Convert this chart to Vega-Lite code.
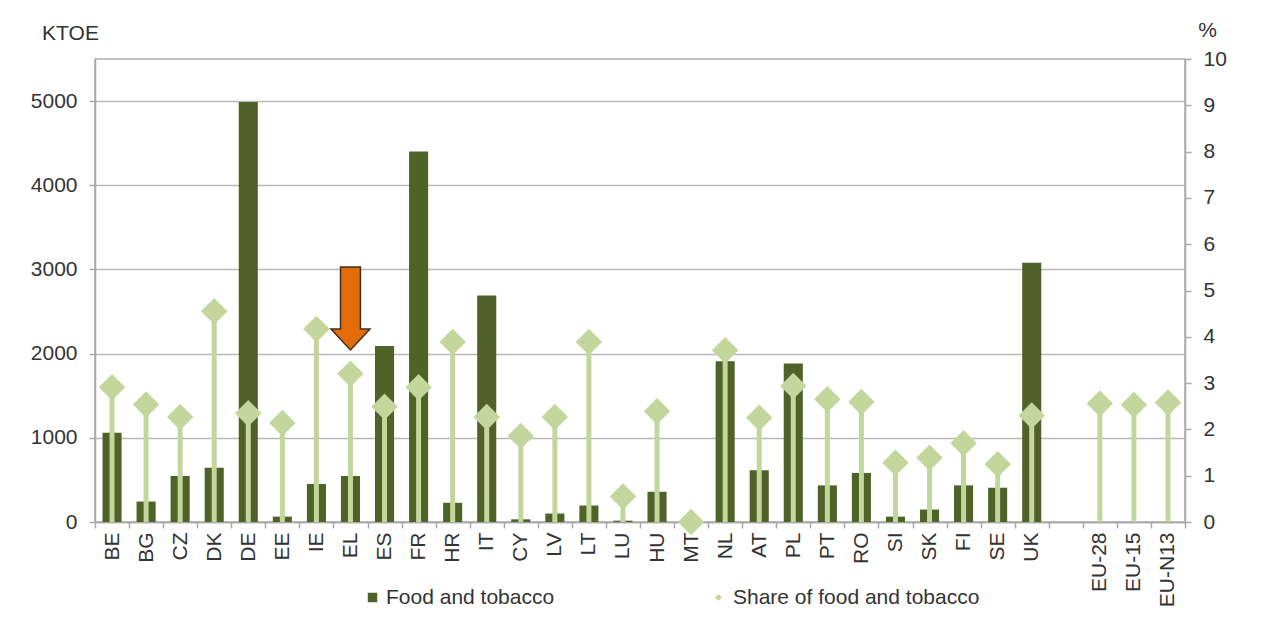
{
  "$schema": "https://vega.github.io/schema/vega-lite/v6.json",
  "width": 1090,
  "height": 463,
  "padding": {"left": 30, "top": 19, "right": 5, "bottom": 5},
  "background": "white",
  "config": {
    "font": "Liberation Sans",
    "view": {"stroke": "#b0b0b0", "strokeWidth": 1.5},
    "axis": {
      "labelFont": "Liberation Sans",
      "titleFont": "Liberation Sans",
      "labelFontSize": 21,
      "titleFontSize": 21,
      "labelColor": "#333333",
      "titleColor": "#333333",
      "titleFontWeight": "normal",
      "domainColor": "#a8a8a8",
      "domainWidth": 1.5,
      "tickColor": "#a8a8a8",
      "tickWidth": 1.5,
      "gridColor": "#b8b8b8",
      "gridWidth": 1.5
    },
    "legend": {
      "labelFont": "Liberation Sans",
      "labelFontSize": 21,
      "labelColor": "#333333",
      "labelLimit": 0,
      "orient": "none",
      "title": null
    }
  },
  "datasets": {
    "main": [
      {"country": "BE", "ktoe": 1060, "share": 2.91},
      {"country": "BG", "ktoe": 243, "share": 2.54},
      {"country": "CZ", "ktoe": 547, "share": 2.27},
      {"country": "DK", "ktoe": 643, "share": 4.55},
      {"country": "DE", "ktoe": 4990, "share": 2.35},
      {"country": "EE", "ktoe": 64, "share": 2.14},
      {"country": "IE", "ktoe": 451, "share": 4.17},
      {"country": "EL", "ktoe": 547, "share": 3.2},
      {"country": "ES", "ktoe": 2090, "share": 2.49},
      {"country": "FR", "ktoe": 4400, "share": 2.91},
      {"country": "HR", "ktoe": 228, "share": 3.89},
      {"country": "IT", "ktoe": 2690, "share": 2.27},
      {"country": "CY", "ktoe": 32, "share": 1.86},
      {"country": "LV", "ktoe": 100, "share": 2.27},
      {"country": "LT", "ktoe": 196, "share": 3.89},
      {"country": "LU", "ktoe": 16, "share": 0.55},
      {"country": "HU", "ktoe": 359, "share": 2.39},
      {"country": "MT", "ktoe": 0, "share": 0.0},
      {"country": "NL", "ktoe": 1910, "share": 3.71},
      {"country": "AT", "ktoe": 615, "share": 2.25},
      {"country": "PL", "ktoe": 1884, "share": 2.94},
      {"country": "PT", "ktoe": 435, "share": 2.65},
      {"country": "RO", "ktoe": 583, "share": 2.59},
      {"country": "SI", "ktoe": 64, "share": 1.28},
      {"country": "SK", "ktoe": 148, "share": 1.39},
      {"country": "FI", "ktoe": 435, "share": 1.7},
      {"country": "SE", "ktoe": 407, "share": 1.25},
      {"country": "UK", "ktoe": 3080, "share": 2.3},
      {"country": "EU-28", "share": 2.56},
      {"country": "EU-15", "share": 2.53},
      {"country": "EU-N13", "share": 2.58}
    ],
    "arrow": [
      {"country": "EL", "ktoe": 2536}
    ]
  },
  "encoding": {
    "x": {
      "field": "country",
      "type": "nominal",
      "sort": null,
      "scale": {
        "domain": ["BE","BG","CZ","DK","DE","EE","IE","EL","ES","FR","HR","IT","CY","LV","LT","LU","HU","MT","NL","AT","PL","PT","RO","SI","SK","FI","SE","UK"," ","EU-28","EU-15","EU-N13"],
        "paddingInner": 0,
        "paddingOuter": 0
      },
      "axis": {
        "title": null,
        "labelAngle": 270,
        "labelPadding": 4,
        "tickBand": "extent",
        "tickSize": 6,
        "grid": false
      }
    }
  },
  "layer": [
    {
      "layer": [
        {
          "data": {"name": "main"},
          "mark": {"type": "bar", "width": {"band": 0.56}},
          "encoding": {
            "y": {
              "field": "ktoe",
              "type": "quantitative",
              "scale": {"domain": [0, 5500], "nice": false},
              "axis": {
                "values": [0, 1000, 2000, 3000, 4000, 5000],
                "format": "d",
                "grid": true,
                "tickSize": 6,
                "labelPadding": 12,
                "title": "KTOE",
                "titleAngle": 0,
                "titleAlign": "center",
                "titleBaseline": "middle",
                "titleX": -25,
                "titleY": -26
              }
            },
            "color": {
              "datum": "Food and tobacco",
              "scale": {"domain": ["Food and tobacco"], "range": ["#4f6228"]},
              "legend": {
                "symbolType": "square",
                "symbolSize": 90,
                "legendX": 267,
                "legendY": 528,
                "labelOffset": 3
              }
            }
          }
        },
        {
          "data": {"name": "arrow"},
          "mark": {
            "type": "point",
            "shape": "M-0.24,-1L0.24,-1L0.24,0.494L0.47,0.494L0,1L-0.47,0.494L-0.24,0.494Z",
            "size": 6889,
            "filled": true,
            "fill": "#e36c09",
            "stroke": "#3f2f20",
            "strokeWidth": 1.5,
            "opacity": 1
          },
          "encoding": {
            "y": {"field": "ktoe", "type": "quantitative"}
          }
        }
      ]
    },
    {
      "data": {"name": "main"},
      "layer": [
        {
          "mark": {"type": "rule", "color": "#c3d69b", "strokeWidth": 5},
          "encoding": {
            "y": {
              "field": "share",
              "type": "quantitative",
              "scale": {"domain": [0, 10], "nice": false},
              "axis": {
                "orient": "right",
                "values": [0, 1, 2, 3, 4, 5, 6, 7, 8, 9, 10],
                "grid": false,
                "tickSize": 6,
                "labelPadding": 12,
                "title": "%",
                "titleAngle": 0,
                "titleAlign": "center",
                "titleBaseline": "middle",
                "titleX": 22,
                "titleY": -29
              }
            },
            "y2": {"datum": 0}
          }
        },
        {
          "mark": {"type": "point", "shape": "diamond", "size": 700, "filled": true, "opacity": 1},
          "encoding": {
            "y": {"field": "share", "type": "quantitative"},
            "fill": {
              "datum": "Share of food and tobacco",
              "scale": {"domain": ["Share of food and tobacco"], "range": ["#c3d69b"]},
              "legend": {
                "symbolType": "diamond",
                "symbolSize": 45,
                "legendX": 613,
                "legendY": 528,
                "labelOffset": 4
              }
            }
          }
        }
      ]
    }
  ],
  "resolve": {"scale": {"y": "independent"}}
}
